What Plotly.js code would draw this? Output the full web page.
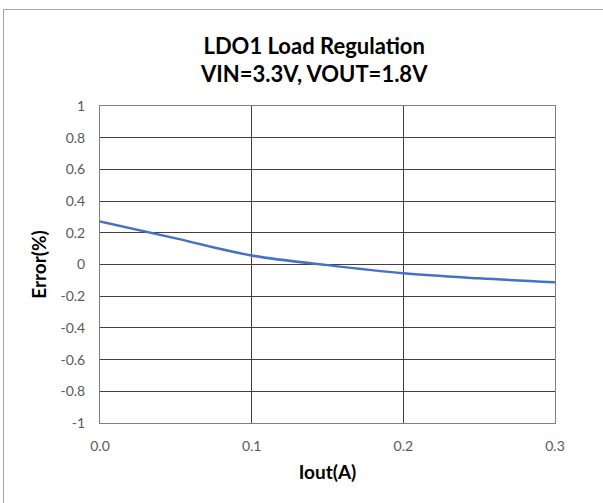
<!DOCTYPE html>
<html>
<head>
<meta charset="utf-8">
<script src="https://cdn.plot.ly/plotly-3.0.1.min.js"></script>
<style>
html,body{margin:0;padding:0;background:#fff;}
#wrap{position:absolute;left:0;top:0;width:603px;height:503px;overflow:hidden;}
#frame{position:absolute;left:3px;top:9px;width:640px;height:520px;border-left:1.5px solid #a6a6a6;border-top:1.5px solid #a6a6a6;pointer-events:none;}
#chart{position:absolute;left:0;top:0;width:603px;height:503px;}
</style>
</head>
<body>
<div id="wrap">
<div id="chart"></div>
<div id="frame"></div>
</div>
<script>
const iout = [0, 0.05, 0.1, 0.15, 0.2, 0.25, 0.3];
const errorPct = [0.272, 0.165, 0.057, -0.004, -0.055, -0.087, -0.112];
const xTicks = [0, 0.1, 0.2, 0.3];
const xTickLabels = ['0.0', '0.1', '0.2', '0.3'];
const yTicks = [-1, -0.8, -0.6, -0.4, -0.2, 0, 0.2, 0.4, 0.6, 0.8, 1];
const yTickLabels = ['-1', '-0.8', '-0.6', '-0.4', '-0.2', '0', '0.2', '0.4', '0.6', '0.8', '1'];

const font = 'Lato, "Open Sans", sans-serif';

Plotly.newPlot('chart', [{
  x: iout,
  y: errorPct,
  type: 'scatter',
  mode: 'lines',
  line: {color: '#4472C4', width: 2.5, shape: 'spline', smoothing: 1},
  hoverinfo: 'skip'
}], {
  width: 603,
  height: 503,
  margin: {l: 100, r: 48, t: 106, b: 80},
  paper_bgcolor: '#ffffff',
  plot_bgcolor: '#ffffff',
  showlegend: false,
  font: {family: font, color: '#595959'},
  title: {
    text: '<b>LDO1 Load Regulation</b><br><b>VIN=3.3V, VOUT=1.8V</b>',
    x: 0.521, xanchor: 'center',
    yref: 'container', y: 0.893, yanchor: 'middle',
    font: {family: font, size: 22, color: '#000000'}
  },
  xaxis: {
    range: [0, 0.3],
    tickvals: xTicks,
    ticktext: xTickLabels,
    showgrid: true,
    gridcolor: '#404040',
    gridwidth: 1,
    zeroline: false,
    showline: true,
    linecolor: '#808080',
    linewidth: 1,
    mirror: true,
    ticks: '',
    ticklabelstandoff: 10,
    tickfont: {family: font, size: 14, color: '#595959'},
    title: {text: '<b>Iout(A)</b>', font: {family: font, size: 19, color: '#000000'}, standoff: 12},
    automargin: false
  },
  yaxis: {
    range: [-1, 1],
    tickvals: yTicks,
    ticktext: yTickLabels,
    showgrid: true,
    gridcolor: '#404040',
    gridwidth: 1,
    zeroline: false,
    showline: true,
    linecolor: '#808080',
    linewidth: 1,
    mirror: true,
    ticks: '',
    ticklabelstandoff: 11,
    tickfont: {family: font, size: 14, color: '#595959'},
    title: {text: '<b>Error(%)</b>', font: {family: font, size: 19, color: '#000000'}, standoff: 8},
    automargin: false
  }
}, {staticPlot: true, displayModeBar: false});
</script>
</body>
</html>
